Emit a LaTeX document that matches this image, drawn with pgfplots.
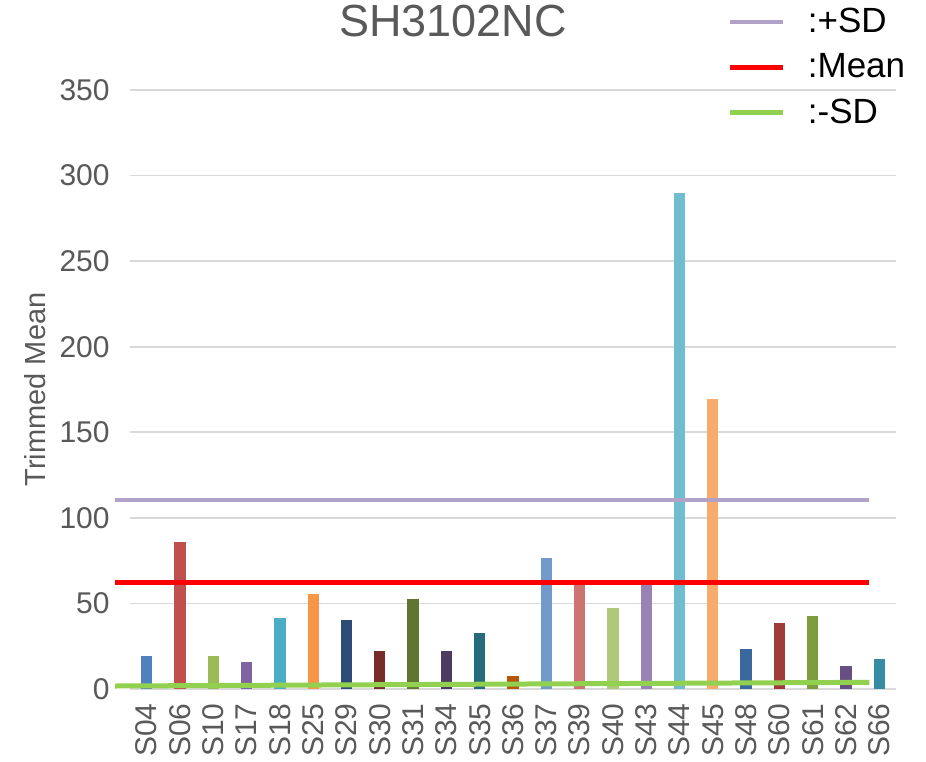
\documentclass[border=0pt]{standalone}
\usepackage{fontspec}
\setmainfont{Liberation Sans}
\usepackage{pgfplots}
\pgfplotsset{compat=1.18}
\definecolor{txt}{HTML}{595959}
\definecolor{gridc}{HTML}{D9D9D9}
\definecolor{cA}{HTML}{4F81BD}
\definecolor{cB}{HTML}{C0504D}
\definecolor{cC}{HTML}{9BBB59}
\definecolor{cD}{HTML}{8064A2}
\definecolor{cE}{HTML}{4BACC6}
\definecolor{cF}{HTML}{F79646}
\definecolor{cG}{HTML}{2C4D75}
\definecolor{cH}{HTML}{772C2A}
\definecolor{cI}{HTML}{5F7530}
\definecolor{cJ}{HTML}{4D3B62}
\definecolor{cK}{HTML}{276A7C}
\definecolor{cL}{HTML}{B65708}
\definecolor{cM}{HTML}{729ACA}
\definecolor{cN}{HTML}{CD7371}
\definecolor{cO}{HTML}{AFC97A}
\definecolor{cP}{HTML}{9983B5}
\definecolor{cQ}{HTML}{6FBDD1}
\definecolor{cR}{HTML}{F9AB6B}
\definecolor{cS}{HTML}{3A679C}
\definecolor{cT}{HTML}{9F3B38}
\definecolor{cU}{HTML}{7E9C40}
\definecolor{cV}{HTML}{664F83}
\definecolor{cW}{HTML}{358CA3}
\definecolor{lav}{HTML}{B3A2C7}
\definecolor{grn}{HTML}{92D050}
\begin{document}
\begin{tikzpicture}
\useasboundingbox (-65pt,-36pt) rectangle (398pt,344.5pt);
\begin{axis}[
  at={(0,0)}, anchor=south west,
  scale only axis, width=383pt, height=299.5pt,
  xmin=-0.5, xmax=22.5, ymin=0, ymax=350,
  clip=false,
  axis x line*=bottom, axis y line*=left,
  x axis line style={draw=gridc, line width=1.2pt, -},
  y axis line style={draw=none},
  major tick length=0pt,
  xtick={0,...,22},
  xticklabels={S04,S06,S10,S17,S18,S25,S29,S30,S31,S34,S35,S36,S37,S39,S40,S43,S44,S45,S48,S60,S61,S62,S66},
  ytick={0,50,...,350},
  ymajorgrids, grid style={draw=gridc, line width=0.9pt},
  /pgf/number format/assume math mode=true,
  xticklabel shift=7pt,
  yticklabel shift=10pt,
  x tick label style={font=\fontsize{15}{18}\selectfont, text=txt, rotate=90, anchor=east, inner sep=0pt},
  y tick label style={font=\fontsize{15}{18}\selectfont, text=txt, anchor=east, inner sep=0pt},
  ylabel={Trimmed Mean},
  ylabel style={font=\fontsize{14.5}{17}\selectfont, text=txt, at={(axis description cs:-0.124,0.5)}, anchor=center},
  title={SH3102NC},
  title style={font=\fontsize{22.5}{26}\selectfont, text=txt, at={(axis description cs:0.4217,1.095)}, anchor=center},
  legend style={at={(axis description cs:0.78,1.1435)}, anchor=north west, draw=none, fill=none, inner sep=0pt, row sep=5pt, font=\fontsize{17.5}{20}\selectfont, text=black, cells={anchor=west}, nodes={inner xsep=0pt}},
  legend image code/.code={\draw[#1] (0pt,0pt) -- (26.5pt,0pt);},
  /tikz/every odd column/.append style={column sep=11pt},
  every axis plot/.append style={ybar, bar width=5.65pt, bar shift=0pt, draw=none},
]
\addplot[fill=cA, forget plot] coordinates {(0,19)};
\addplot[fill=cB, forget plot] coordinates {(1,86.1)};
\addplot[fill=cC, forget plot] coordinates {(2,19)};
\addplot[fill=cD, forget plot] coordinates {(3,16)};
\addplot[fill=cE, forget plot] coordinates {(4,41.5)};
\addplot[fill=cF, forget plot] coordinates {(5,55.5)};
\addplot[fill=cG, forget plot] coordinates {(6,40.3)};
\addplot[fill=cH, forget plot] coordinates {(7,22.2)};
\addplot[fill=cI, forget plot] coordinates {(8,52.6)};
\addplot[fill=cJ, forget plot] coordinates {(9,22.2)};
\addplot[fill=cK, forget plot] coordinates {(10,32.7)};
\addplot[fill=cL, forget plot] coordinates {(11,7.6)};
\addplot[fill=cM, forget plot] coordinates {(12,76.6)};
\addplot[fill=cN, forget plot] coordinates {(13,60.8)};
\addplot[fill=cO, forget plot] coordinates {(14,47.3)};
\addplot[fill=cP, forget plot] coordinates {(15,61)};
\addplot[fill=cQ, forget plot] coordinates {(16,289.9)};
\addplot[fill=cR, forget plot] coordinates {(17,169.5)};
\addplot[fill=cS, forget plot] coordinates {(18,23.4)};
\addplot[fill=cT, forget plot] coordinates {(19,38.8)};
\addplot[fill=cU, forget plot] coordinates {(20,42.7)};
\addplot[fill=cV, forget plot] coordinates {(21,13.4)};
\addplot[fill=cW, forget plot] coordinates {(22,17.5)};
\addplot[sharp plot, draw=lav, line width=2pt, fill=none] coordinates {(-0.95,110.5) (21.7,110.5)};
\addlegendentry{:+SD}
\addplot[sharp plot, draw=red, line width=2.5pt, fill=none] coordinates {(-0.95,62.2) (21.7,62.2)};
\addlegendentry{:Mean}
\addplot[sharp plot, draw=grn, line width=2.5pt, fill=none] coordinates {(-0.95,1.75) (21.7,3.9)};
\addlegendentry{:-SD}
\end{axis}
\end{tikzpicture}
\end{document}
